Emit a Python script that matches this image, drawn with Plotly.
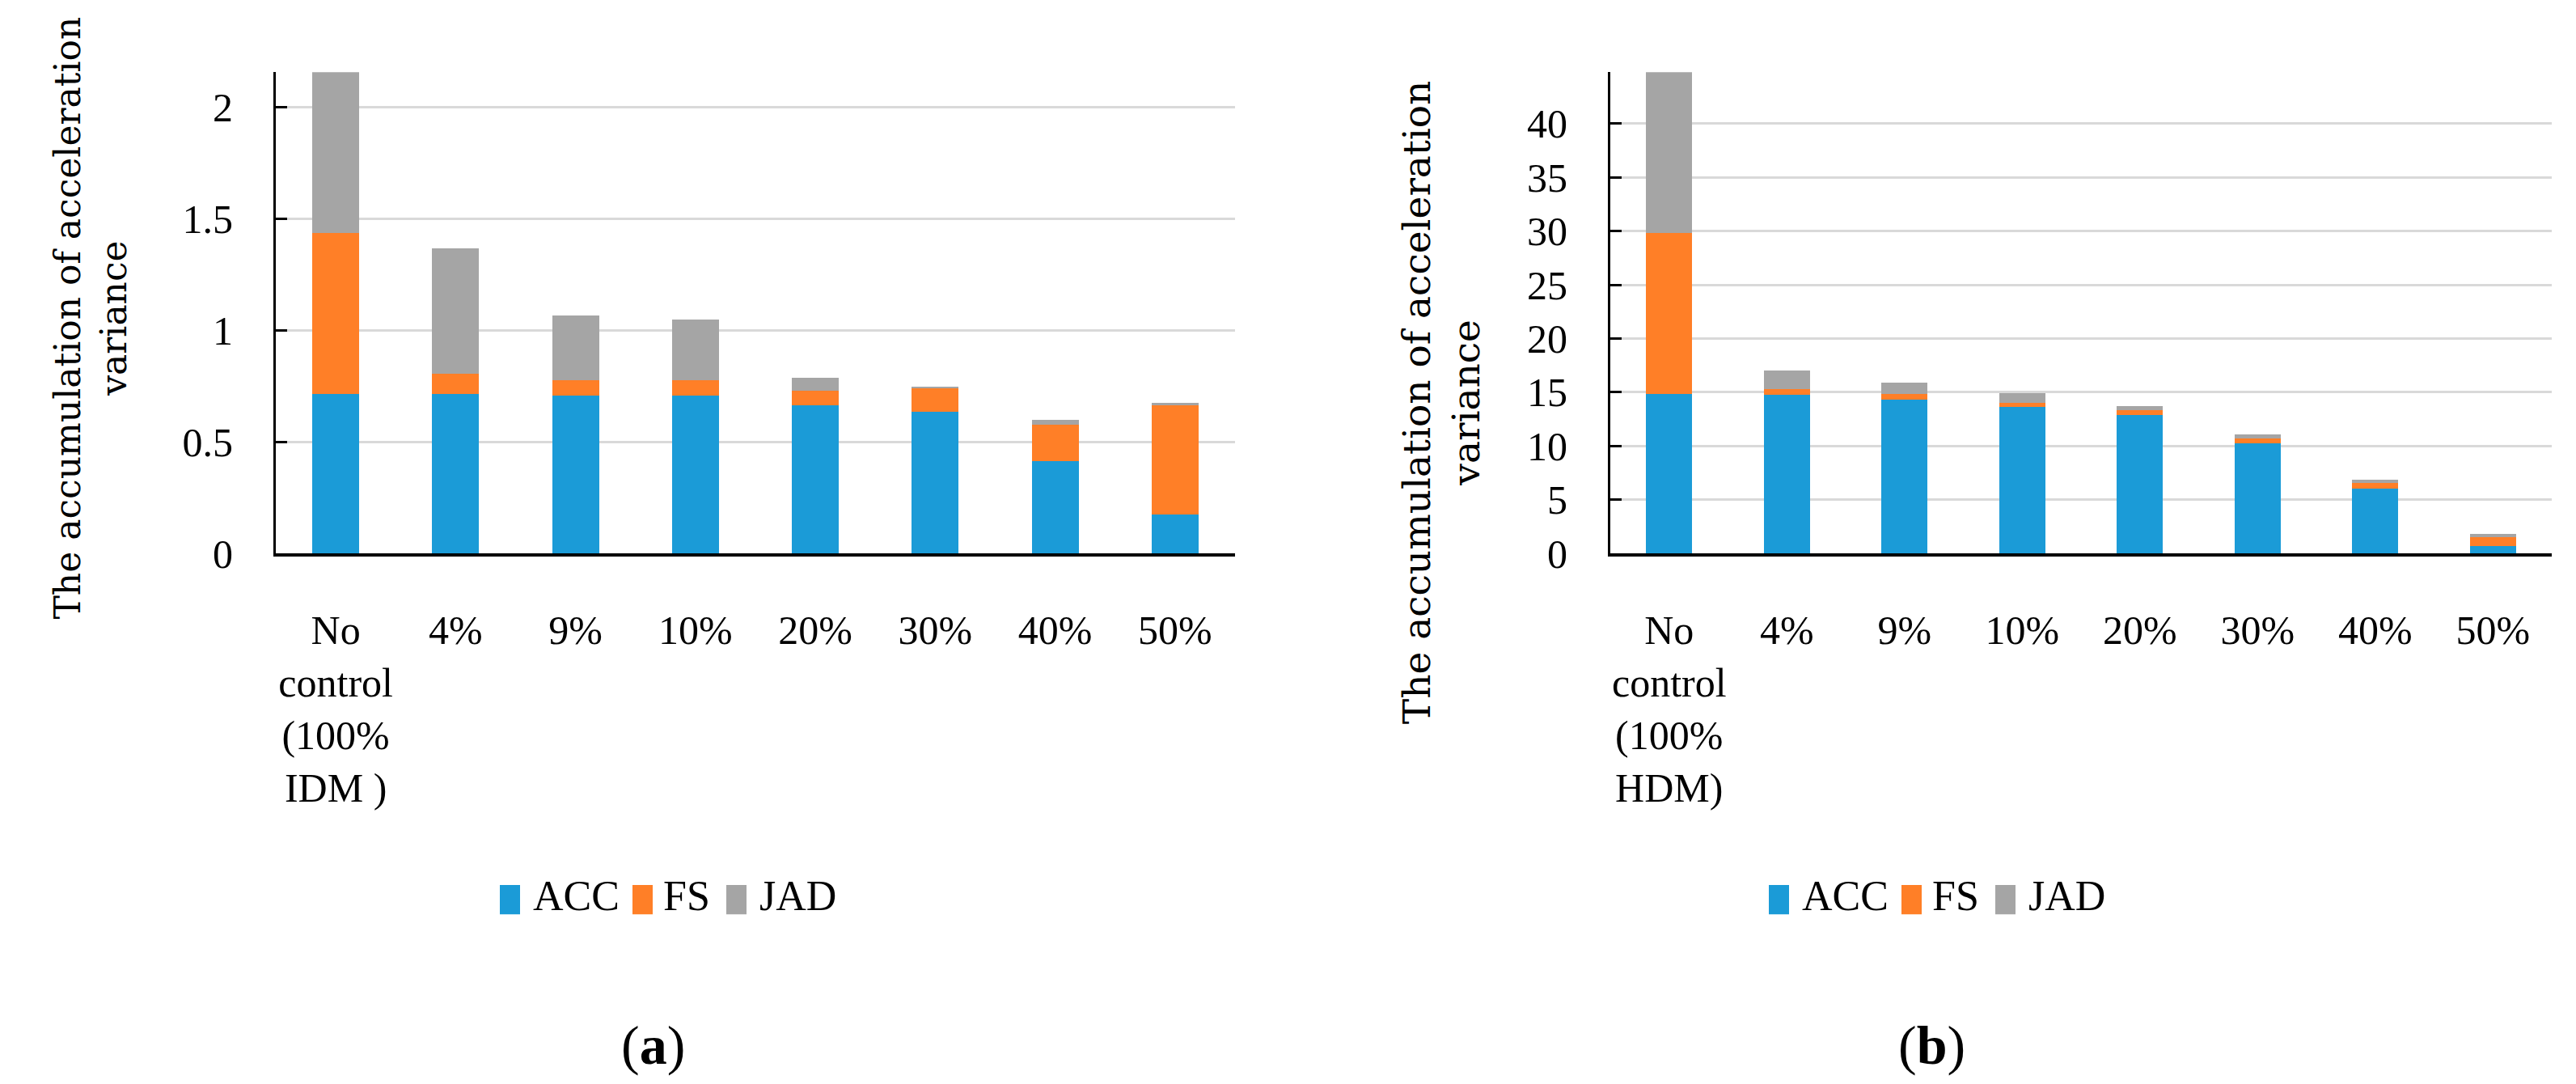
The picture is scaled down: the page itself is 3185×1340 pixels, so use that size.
import plotly.graph_objects as go

W, H = 3185, 1340

categories_a = ["No<br>control<br>(100%<br>IDM )", "4%", "9%", "10%", "20%", "30%", "40%", "50%"]
categories_b = ["No<br>control<br>(100%<br>HDM)", "4%", "9%", "10%", "20%", "30%", "40%", "50%"]

acc_a = [0.714, 0.714, 0.706, 0.706, 0.663, 0.633, 0.414, 0.175]
fs_a = [0.723, 0.092, 0.069, 0.070, 0.064, 0.105, 0.161, 0.488]
jad_a = [0.719, 0.561, 0.290, 0.270, 0.059, 0.008, 0.023, 0.012]

acc_b = [14.85, 14.80, 14.35, 13.60, 12.87, 10.23, 6.00, 0.70]
fs_b = [14.95, 0.50, 0.50, 0.43, 0.50, 0.50, 0.53, 0.82]
jad_b = [15.00, 1.70, 1.05, 0.90, 0.33, 0.33, 0.31, 0.28]

series_names = ["ACC", "FS", "JAD"]
colors = ["#1B9BD7", "#FF7F27", "#A5A5A5"]

y_ticks_a = [0, 0.5, 1, 1.5, 2]
y_ticks_b = [0, 5, 10, 15, 20, 25, 30, 35, 40]
y_range_a = [0, 2.156]
y_range_b = [0, 44.8]

y_title = "The accumulation of acceleration<br>variance"
panel_labels = ["(<b>a</b>)", "(<b>b</b>)"]


def px_x(v):
    return v / W


def px_y(v):
    return 1 - v / H


fig = go.Figure()

for name, col, vals in zip(series_names, colors, [acc_a, fs_a, jad_a]):
    fig.add_trace(go.Bar(x=categories_a, y=vals, name=name, marker=dict(color=col, line=dict(width=0)),
                         xaxis="x", yaxis="y", showlegend=False))
for name, col, vals in zip(series_names, colors, [acc_b, fs_b, jad_b]):
    fig.add_trace(go.Bar(x=categories_b, y=vals, name=name, marker=dict(color=col, line=dict(width=0)),
                         xaxis="x2", yaxis="y2", showlegend=False))

tick_font = dict(family="Liberation Serif", size=50, color="black")
xtick_font = dict(family="Liberation Serif", size=50, color="black")

ydom = [px_y(691), px_y(83)]


def xaxis_cfg(domain, anchor):
    return dict(domain=domain, anchor=anchor, type="category", showline=True, linecolor="black",
                linewidth=4, showgrid=False, ticks="", tickfont=xtick_font, ticklabelstandoff=48,
                fixedrange=True)


def yaxis_cfg(anchor, rng, ticks):
    return dict(domain=ydom, anchor=anchor, range=rng, tickmode="array", tickvals=ticks,
                ticktext=[f"{t:g}" for t in ticks], showline=True, linecolor="black", linewidth=3,
                ticks="inside", ticklen=14, tickwidth=3, tickcolor="black", showgrid=True,
                gridcolor="#D9D9D9", gridwidth=3, zeroline=False, tickfont=tick_font,
                ticklabelstandoff=40, fixedrange=True)


fig.update_layout(
    width=W, height=H, margin=dict(l=0, r=0, t=0, b=0),
    paper_bgcolor="white", plot_bgcolor="white",
    barmode="stack", bargap=0.61,
    xaxis=xaxis_cfg([px_x(333), px_x(1519)], "y"),
    yaxis=yaxis_cfg("x", y_range_a, y_ticks_a),
    xaxis2=xaxis_cfg([px_x(1983), px_x(3147)], "y2"),
    yaxis2=yaxis_cfg("x2", y_range_b, y_ticks_b),
)

annotations = []
shapes = []

# y-axis titles
annotations.append(dict(text=y_title, x=px_x(104), y=px_y(394), xref="paper", yref="paper",
                        textangle=-90, showarrow=False, xanchor="center", yanchor="middle",
                        font=dict(family="DejaVu Serif", size=44, color="black")))
annotations.append(dict(text=y_title, x=px_x(1774), y=px_y(500), xref="paper", yref="paper",
                        textangle=-90, showarrow=False, xanchor="center", yanchor="middle",
                        font=dict(family="DejaVu Serif", size=47, color="black")))

# panel labels
for lbl, cx in zip(panel_labels, [800, 2380]):
    annotations.append(dict(text=lbl, x=px_x(cx), y=px_y(1312), xref="paper", yref="paper",
                            showarrow=False, xanchor="center", yanchor="middle",
                            font=dict(family="Liberation Serif", size=68, color="black")))

# legends (one per panel)
legend_font = dict(family="Liberation Serif", size=52, color="black")
for offset in [0, 1569]:
    sw_x = [610, 774, 890]
    tx_x = [649, 810, 929]
    for name, col, sx, tx in zip(series_names, colors, sw_x, tx_x):
        shapes.append(dict(type="rect", xref="paper", yref="paper",
                           x0=px_x(sx + offset), x1=px_x(sx + offset + 25),
                           y0=px_y(1147), y1=px_y(1110), fillcolor=col, line=dict(width=0)))
        annotations.append(dict(text=name, x=px_x(tx + offset), y=px_y(1124), xref="paper", yref="paper",
                                showarrow=False, xanchor="left", yanchor="middle", font=legend_font))

fig.update_layout(annotations=annotations, shapes=shapes)

fig.write_html("out.html")
